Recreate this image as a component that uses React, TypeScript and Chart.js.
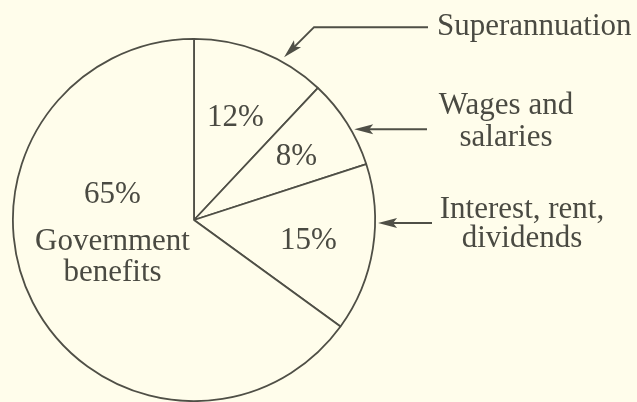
import React, { useEffect, useRef } from "react";
import { Chart, registerables } from "chart.js";

Chart.register(...registerables);

// ---- data ----
const categories = ["Superannuation", "Wages and salaries", "Interest, rent, dividends", "Government benefits"];
const shares = [12, 8, 15, 65];
const percentLabels = ["12%", "8%", "15%", "65%"];
const governmentLines = ["Government", "benefits"];
const calloutLines = [["Superannuation"], ["Wages and", "salaries"], ["Interest, rent,", "dividends"]];

// ---- style / layout ----
const BG = "#fffdeb";
const INK = "#4f4f46";
const TEXT = "#4a4a42";
const FONT = "31px 'Liberation Serif', 'Times New Roman', serif";
const W = 637;
const H = 402;

// radial placement of the small slice labels (fraction of radius)
const labelRadius = [0.62, 0.67, 0.64];
// where along each slice the callout arrows touch (fraction of slice angle) and gap beyond rim
const arrowFrac = [0.67, 0.6, 0.35];
const arrowGap = [5, 3, 3];

function drawArrowHead(ctx: CanvasRenderingContext2D, tx: number, ty: number, dx: number, dy: number) {
  const len = Math.hypot(dx, dy);
  const ux = dx / len;
  const uy = dy / len;
  const L = 19;
  const hw = 5;
  const bx = tx - ux * L;
  const by = ty - uy * L;
  ctx.beginPath();
  ctx.moveTo(tx, ty);
  ctx.lineTo(bx - uy * hw, by + ux * hw);
  ctx.lineTo(bx + ux * 4, by + uy * 4);
  ctx.lineTo(bx + uy * hw, by - ux * hw);
  ctx.closePath();
  ctx.fill();
}

const annotatePlugin = {
  id: "annotate",
  beforeDraw(chart: any) {
    const ctx = chart.ctx as CanvasRenderingContext2D;
    ctx.save();
    ctx.fillStyle = BG;
    ctx.fillRect(0, 0, chart.width, chart.height);
    ctx.restore();
  },
  afterDraw(chart: any) {
    const ctx = chart.ctx as CanvasRenderingContext2D;
    const meta = chart.getDatasetMeta(0);
    const arcs = meta.data as any[];
    const p0 = arcs[0].getProps(["x", "y", "outerRadius"], true);
    const cx = p0.x;
    const cy = p0.y;
    const R = p0.outerRadius;

    ctx.save();
    ctx.font = FONT;
    ctx.fillStyle = TEXT;
    ctx.textAlign = "center";
    ctx.textBaseline = "alphabetic";

    // small slice labels
    for (let i = 0; i < 3; i++) {
      const a = arcs[i].getProps(["startAngle", "endAngle"], true);
      const mid = (a.startAngle + a.endAngle) / 2;
      const r = labelRadius[i] * R;
      const x = cx + r * Math.cos(mid);
      const y = cy + r * Math.sin(mid);
      ctx.fillText(percentLabels[i], x, y + 10.5);
    }

    // government label block
    ctx.fillText(percentLabels[3], cx - 0.45 * R, cy - 17);
    ctx.fillText(governmentLines[0], cx - 0.45 * R, cy + 30);
    ctx.fillText(governmentLines[1], cx - 0.45 * R, cy + 61);

    // callout arrows
    ctx.strokeStyle = INK;
    ctx.fillStyle = INK;
    ctx.lineWidth = 2;
    const tips: { x: number; y: number }[] = [];
    for (let i = 0; i < 3; i++) {
      const a = arcs[i].getProps(["startAngle", "endAngle"], true);
      const ang = a.startAngle + (a.endAngle - a.startAngle) * arrowFrac[i];
      const r = R + arrowGap[i];
      tips.push({ x: cx + r * Math.cos(ang), y: cy + r * Math.sin(ang) });
    }

    // Superannuation: bent leader
    {
      const t = tips[0];
      const ex = t.x + 30;
      const ey = t.y - 30;
      ctx.beginPath();
      ctx.moveTo(428, ey);
      ctx.lineTo(ex, ey);
      ctx.lineTo(t.x + 8, t.y - 8);
      ctx.stroke();
      drawArrowHead(ctx, t.x, t.y, -1, 1);
    }
    // Wages
    {
      const t = tips[1];
      ctx.beginPath();
      ctx.moveTo(427, t.y);
      ctx.lineTo(t.x + 10, t.y);
      ctx.stroke();
      drawArrowHead(ctx, t.x, t.y, -1, 0);
    }
    // Interest
    {
      const t = tips[2];
      ctx.beginPath();
      ctx.moveTo(432, t.y);
      ctx.lineTo(t.x + 10, t.y);
      ctx.stroke();
      drawArrowHead(ctx, t.x, t.y, -1, 0);
    }

    // callout texts
    ctx.fillStyle = TEXT;
    ctx.textAlign = "left";
    ctx.fillText(calloutLines[0][0], 437, 35);
    ctx.textAlign = "center";
    ctx.fillText(calloutLines[1][0], 506, 114);
    ctx.fillText(calloutLines[1][1], 506, 146);
    ctx.fillText(calloutLines[2][0], 522, 218);
    ctx.fillText(calloutLines[2][1], 522, 247);

    ctx.restore();
  },
};

export default function App() {
  const canvasRef = useRef<HTMLCanvasElement | null>(null);

  useEffect(() => {
    document.body.style.margin = "0";
    document.body.style.background = BG;
    const canvas = canvasRef.current;
    if (!canvas) return;
    const chart = new Chart(canvas, {
      type: "pie",
      data: {
        labels: categories,
        datasets: [
          {
            data: shares,
            backgroundColor: BG,
            borderColor: INK,
            borderWidth: 1.8,
            hoverOffset: 0,
          },
        ],
      },
      options: {
        responsive: false,
        animation: false,
        devicePixelRatio: 1,
        rotation: 0,
        layout: { padding: { left: 12, top: 38, right: 261, bottom: 0 } },
        plugins: {
          legend: { display: false },
          tooltip: { enabled: false },
        },
        events: [],
      },
      plugins: [annotatePlugin],
    });
    return () => chart.destroy();
  }, []);

  return (
    <div style={{ position: "absolute", left: 0, top: 0, width: W, height: H, background: BG }}>
      <canvas ref={canvasRef} width={W} height={H} style={{ display: "block" }} />
    </div>
  );
}
